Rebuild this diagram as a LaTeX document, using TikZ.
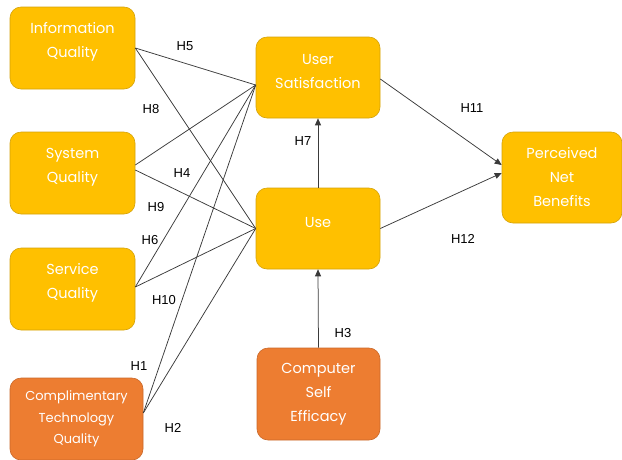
\documentclass[tikz,border=0pt]{standalone}
\usepackage{fontspec}
\setmainfont{Poppins}
\newfontfamily\labfont{Liberation Sans}
\usetikzlibrary{arrows.meta,calc}
\definecolor{boxyellow}{HTML}{FFC000}
\definecolor{boxorange}{HTML}{ED7D31}
\definecolor{edgeyellow}{HTML}{D4A20A}
\definecolor{edgeorange}{HTML}{C9682A}
\definecolor{linegray}{HTML}{3A3A3A}
\tikzset{
  ybox/.style={draw=edgeyellow, fill=boxyellow, rounded corners=11pt, line width=0.6pt, inner sep=0pt},
  obox/.style={ybox, draw=edgeorange, fill=boxorange},
  btext/.style={text=white, align=center, font=\fontsize{14.5}{24}\selectfont, inner sep=0pt},
  hlab/.style={font=\labfont\fontsize{13}{15}\selectfont, text=black, inner sep=1pt},
  link/.style={draw=linegray, line width=0.75pt},
  arr/.style={link, -{Triangle[length=7pt,width=6pt]}}
}
\begin{document}
\begin{tikzpicture}[x=1pt,y=-1pt]
\useasboundingbox (0,0) rectangle (622,459);
% boxes
\node[ybox, minimum width=125pt, minimum height=82pt] (iq) at (72.5,48) {};
\node[ybox, minimum width=125pt, minimum height=82pt] (sq) at (72.5,173) {};
\node[ybox, minimum width=125pt, minimum height=82pt] (svq) at (72.5,289) {};
\node[obox, minimum width=133pt, minimum height=82pt] (ctq) at (76.5,419) {};
\node[ybox, minimum width=124pt, minimum height=81pt] (us) at (318,77.5) {};
\node[ybox, minimum width=124pt, minimum height=81pt] (use) at (318,228.5) {};
\node[ybox, minimum width=120pt, minimum height=91pt] (pnb) at (562,177.5) {};
\node[obox, minimum width=123pt, minimum height=92pt] (cse) at (318.5,394) {};
% box texts
\node[btext] (iqt) at ($(iq.center)+(0,-6)$) {Information\\Quality};
\node[btext] (sqt) at ($(sq.center)+(0,-6)$) {System\\Quality};
\node[btext] (svqt) at ($(svq.center)+(0,-6)$) {Service\\Quality};
\node[btext, font=\fontsize{13}{21.5}\selectfont] (ctqt) at ($(ctq.center)+(0,0)$) {Complimentary\\Technology\\Quality};
\node[btext] (ust) at ($(us.center)+(0,-5.5)$) {User\\Satisfaction};
\node[btext] (uset) at ($(use.center)+(0,-5.5)$) {Use};
\node[btext] (pnbt) at (pnb.center) {Perceived\\Net\\Benefits};
\node[btext] (cset) at (cse.center) {Computer\\Self\\Efficacy};
% attachment points
\coordinate (usin) at ($(us.west)+(0,7.5)$);
\coordinate (sqa) at ($(sq.east)+(0,-8)$);
\coordinate (sqb) at ($(sq.east)+(0,-3)$);
\coordinate (svqa) at ($(svq.east)+(0,-2)$);
\coordinate (ctqa) at ($(ctq.east)+(0,-6)$);
\coordinate (pnba) at ($(pnb.west)+(0,-12.5)$);
\coordinate (pnbb) at ($(pnb.west)+(0,-4.5)$);
\coordinate (usout) at ($(us.east)+(0,1.5)$);
% links to User Satisfaction
\draw[link] (iq.east) -- (usin);
\draw[link] (sqa) -- (usin);
\draw[link] (svqa) -- (usin);
\draw[link] (ctqa) -- (usin);
% links to Use
\draw[link] (iq.east) -- (use.west);
\draw[link] (sqb) -- (use.west);
\draw[link] (svqa) -- (use.west);
\draw[link] (ctqa) -- (use.west);
% arrows
\draw[arr] (use.north) -- (us.south);
\draw[arr] (cse.north) -- (use.south);
\draw[arr] (usout) -- (pnba);
\draw[arr] (use.east) -- (pnbb);
% labels
\node[hlab] (h5) at (185,46) {H5};
\node[hlab] (h8) at (151,109) {H8};
\node[hlab] (h4) at (182,173) {H4};
\node[hlab] (h9) at (156,207) {H9};
\node[hlab] (h6) at (150,240) {H6};
\node[hlab] (h10) at (164,300) {H10};
\node[hlab] (h1) at (139,366) {H1};
\node[hlab] (h2) at (173,428) {H2};
\node[hlab] (h11) at (472,108) {H11};
\node[hlab] (h12) at (463,239) {H12};
\node[hlab] (h7) at (303,141) {H7};
\node[hlab] (h3) at (343,333) {H3};
\end{tikzpicture}
\end{document}
